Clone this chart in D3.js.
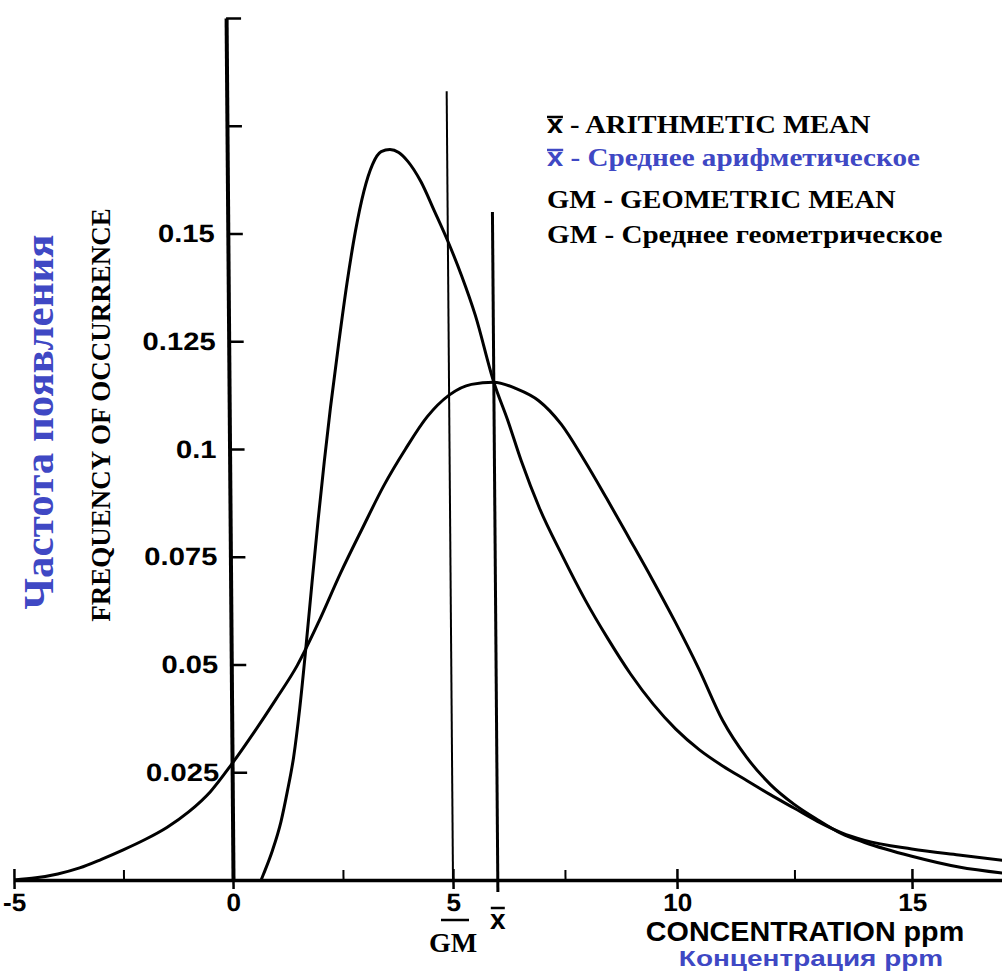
<!DOCTYPE html>
<html>
<head>
<meta charset="utf-8">
<script src="https://cdn.jsdelivr.net/npm/d3@7"></script>
<style>
  html, body { margin: 0; padding: 0; background: #fff; }
  svg { display: block; }
</style>
</head>
<body>
<svg id="chart" width="1002" height="971"></svg>
<script>
'use strict'

// axis ticks
const xTicksMajor = [-5, 0, 5, 10, 15]
const xTicksMinor = [-2.5, 2.5, 7.5, 12.5]
const yTicks = [0.025, 0.05, 0.075, 0.1, 0.125, 0.15, 0.175, 0.2]
const yTickLabels = ['0.025', '0.05', '0.075', '0.1', '0.125', '0.15', '', '']

// normal curve
const normalX = [-5, -4.5, -4, -3.5, -3, -2.5, -2, -1.5, -1, -0.5, 0, 0.5, 1, 1.5, 2, 2.5, 3, 3.5, 4, 4.5,
  5, 5.5, 6, 6.5, 7, 7.5, 8, 8.5, 9, 9.5, 10, 10.5, 11, 11.5, 12, 12.5, 13, 13.5, 14, 15, 16, 17]
const normalY = [0, 0.0005, 0.0014, 0.0028, 0.0048, 0.0070, 0.0094, 0.0122, 0.0158, 0.0205, 0.0270, 0.0342, 0.0418, 0.0498, 0.0600, 0.0712, 0.0815, 0.0915, 0.1000, 0.1075,
  0.1125, 0.1150, 0.1155, 0.1140, 0.1112, 0.1057, 0.0975, 0.0885, 0.0792, 0.0698, 0.0600, 0.0490, 0.0370, 0.0285, 0.0222, 0.0176, 0.0140, 0.0108, 0.0087, 0.0055, 0.0030, 0.0015]

// lognormal curve
const lognormalX = [0.64, 0.7, 0.9, 1.1, 1.25, 1.4, 1.55, 1.7, 1.85, 2, 2.15, 2.3, 2.5, 2.7, 2.9, 3.1, 3.3, 3.5, 3.7, 3.9,
  4.1, 4.4, 4.7, 5, 5.3, 5.6, 6, 6.3, 6.6, 7, 7.5, 8, 8.5, 9, 9.5, 10, 10.5, 11, 11.5, 12, 12.5, 13, 13.5, 14, 15, 16, 17]
const lognormalY = [0, 0.0015, 0.0068, 0.0135, 0.0205, 0.0285, 0.0400, 0.0540, 0.0690, 0.0835, 0.0970, 0.1095, 0.1245, 0.1385, 0.1505, 0.1598, 0.1660, 0.1690, 0.1695, 0.1688,
  0.1668, 0.1620, 0.1552, 0.1482, 0.1402, 0.1310, 0.1155, 0.1068, 0.0972, 0.0862, 0.0752, 0.0650, 0.0560, 0.0478, 0.0408, 0.0350, 0.0302, 0.0264, 0.0231, 0.0198, 0.0167, 0.0136, 0.0110, 0.0092, 0.0072, 0.0058, 0.0045]

// mean markers
const gmValue = 5
const gmTop = 0.183
const meanValue = 6
const meanTop = 0.155

const legendMarks = ['x', 'x', 'GM', 'GM']
const legendTexts = [' - ARITHMETIC MEAN', ' - Среднее арифметическое', ' - GEOMETRIC MEAN', ' - Среднее геометрическое']

const blue = '#3f48c4'
const sans = "'Liberation Sans', Arial, sans-serif"
const serif = "'Liberation Serif', 'Times New Roman', serif"

const svg = d3.select('#chart')

// the scanned axis is a little uneven, so the x scale is polylinear
const x = d3.scaleLinear()
  .domain([-5, 0, 5, 10, 15, 17])
  .range([14, 233, 453, 677, 912, 1006])
const y = d3.scaleLinear()
  .domain([0, 0.2])
  .range([880, 18])

// widen text horizontally like the original
function stretch (sel, k) {
  sel.each(function () {
    const w = this.getComputedTextLength()
    this.setAttribute('textLength', w * k)
    this.setAttribute('lengthAdjust', 'spacingAndGlyphs')
  })
}

// plot leans slightly to the left at the top
const plot = svg.append('g')
  .attr('transform', `translate(0,${y(0)}) skewX(0.46) translate(0,${-y(0)})`)

// y axis
const yAxis = plot.append('g')
  .attr('transform', `translate(${x(0)},0)`)
  .call(d3.axisLeft(y)
    .tickValues(yTicks)
    .tickSizeInner(-15)
    .tickSizeOuter(0)
    .tickPadding(13)
    .tickFormat((d, i) => yTickLabels[i]))
yAxis.select('.domain').attr('stroke', '#000').attr('stroke-width', 4)
yAxis.selectAll('.tick line').attr('stroke', '#000').attr('stroke-width', 2.5)
yAxis.selectAll('.tick text')
  .attr('fill', '#000')
  .style('font-family', sans)
  .style('font-weight', 'bold')
  .style('font-size', '25px')
  .call(stretch, 1.17)

// x axis
const xAxis = plot.append('g')
  .attr('transform', `translate(0,${y(0)})`)
  .call(d3.axisBottom(x)
    .tickValues(xTicksMajor)
    .tickSizeInner(9)
    .tickSizeOuter(0)
    .tickPadding(4)
    .tickFormat(d => String(d)))
xAxis.select('.domain').attr('stroke', '#000').attr('stroke-width', 3.5)
xAxis.selectAll('.tick line').attr('stroke', '#000').attr('stroke-width', 2.5)
xAxis.selectAll('.tick text')
  .attr('fill', '#000')
  .style('font-family', sans)
  .style('font-weight', 'bold')
  .style('font-size', '25px')
  .call(stretch, 1.05)

const upTicks = plot.append('g')
  .attr('transform', `translate(0,${y(0)})`)
  .call(d3.axisTop(x).tickValues(xTicksMajor).tickSize(11).tickFormat(''))
upTicks.select('.domain').remove()
upTicks.selectAll('.tick line').attr('stroke', '#000').attr('stroke-width', 2.5)

const minorTicks = plot.append('g')
  .attr('transform', `translate(0,${y(0)})`)
  .call(d3.axisTop(x).tickValues(xTicksMinor).tickSize(10).tickFormat(''))
minorTicks.select('.domain').remove()
minorTicks.selectAll('.tick line').attr('stroke', '#000').attr('stroke-width', 2)

// mean lines
plot.append('line')
  .attr('x1', x(gmValue)).attr('x2', x(gmValue))
  .attr('y1', y(0)).attr('y2', y(gmTop))
  .attr('stroke', '#000').attr('stroke-width', 2)
plot.append('line')
  .attr('x1', x(meanValue)).attr('x2', x(meanValue))
  .attr('y1', y(0) + 12).attr('y2', y(meanTop))
  .attr('stroke', '#000').attr('stroke-width', 3)

// curves
const line = d3.line()
  .x(d => x(d[0]))
  .y(d => y(d[1]))
  .curve(d3.curveMonotoneX)

plot.append('path')
  .datum(d3.zip(normalX, normalY))
  .attr('d', line)
  .attr('fill', 'none')
  .attr('stroke', '#000')
  .attr('stroke-width', 3)

plot.append('path')
  .datum(d3.zip(lognormalX, lognormalY))
  .attr('d', line)
  .attr('fill', 'none')
  .attr('stroke', '#000')
  .attr('stroke-width', 3)

// GM and x-bar labels under the axis
svg.append('line')
  .attr('x1', x(gmValue) - 12).attr('x2', x(gmValue) + 16)
  .attr('y1', 920).attr('y2', 920)
  .attr('stroke', '#000').attr('stroke-width', 2.5)
svg.append('text')
  .attr('x', x(gmValue)).attr('y', 952)
  .attr('text-anchor', 'middle')
  .style('font-family', serif).style('font-weight', 'bold').style('font-size', '28px')
  .text('GM')
svg.append('text')
  .attr('x', x(meanValue)).attr('y', 929)
  .attr('text-anchor', 'middle')
  .style('font-family', sans).style('font-weight', 'bold').style('font-size', '28px')
  .text('x')
svg.append('line')
  .attr('x1', x(meanValue) - 7).attr('x2', x(meanValue) + 7)
  .attr('y1', 908).attr('y2', 908)
  .attr('stroke', '#000').attr('stroke-width', 2.5)

// axis titles
svg.append('text')
  .attr('x', 805).attr('y', 941)
  .attr('text-anchor', 'middle')
  .style('font-family', sans).style('font-weight', 'bold').style('font-size', '28px')
  .text('CONCENTRATION ppm')
  .call(stretch, 1.025)
svg.append('text')
  .attr('x', 811).attr('y', 966)
  .attr('text-anchor', 'middle')
  .attr('fill', blue)
  .style('font-family', sans).style('font-weight', 'bold').style('font-size', '22px')
  .text('Концентрация ppm')
  .call(stretch, 1.27)

svg.append('text')
  .attr('transform', 'translate(110,415) rotate(-90)')
  .attr('text-anchor', 'middle')
  .style('font-family', serif).style('font-weight', 'bold').style('font-size', '27px')
  .text('FREQUENCY OF OCCURRENCE')
svg.append('text')
  .attr('transform', 'translate(53,422) rotate(-90)')
  .attr('text-anchor', 'middle')
  .attr('fill', blue)
  .style('font-family', serif).style('font-weight', 'bold').style('font-size', '43px')
  .text('Частота появления')

// legend
const rowOffsets = [0, 33, 75, 110]
const legend = svg.append('g').attr('transform', 'translate(547,133)')
legendTexts.forEach((t, i) => {
  const color = i === 1 ? blue : '#000'
  const row = legend.append('text')
    .attr('y', rowOffsets[i])
    .attr('fill', color)
    .style('font-family', serif).style('font-weight', 'bold').style('font-size', '26px')
  row.append('tspan')
    .style('font-family', legendMarks[i] === 'x' ? sans : serif)
    .text(legendMarks[i])
  row.append('tspan').text(t)
  row.call(stretch, i % 2 === 1 ? 1.12 : 1.1)
  if (legendMarks[i] === 'x') {
    const node = row.node()
    const x0 = node.getStartPositionOfChar(0).x
    const x1 = node.getEndPositionOfChar(0).x
    legend.append('line')
      .attr('x1', x0).attr('x2', x1)
      .attr('y1', rowOffsets[i] - 16).attr('y2', rowOffsets[i] - 16)
      .attr('stroke', color).attr('stroke-width', 2.5)
  }
})
</script>
</body>
</html>
